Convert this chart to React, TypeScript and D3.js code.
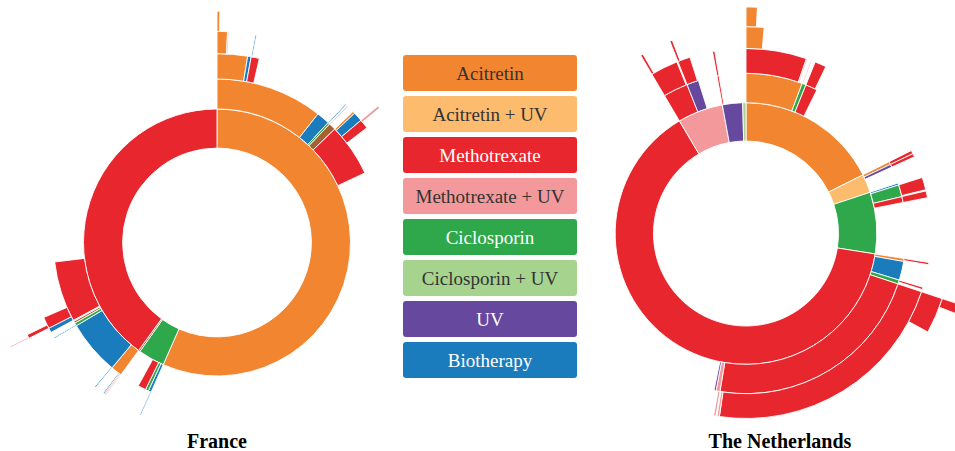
import * as d3 from "d3";

// treatment codes used in the sequence paths
const treatments = ["A", "AU", "M", "MU", "C", "CU", "U", "B"];
const treatmentLabels = [
  "Acitretin",
  "Acitretin + UV",
  "Methotrexate",
  "Methotrexate + UV",
  "Ciclosporin",
  "Ciclosporin + UV",
  "UV",
  "Biotherapy",
];
const treatmentColors = [
  "#f28530",
  "#fdbb6e",
  "#e8262d",
  "#f4999b",
  "#2ea84a",
  "#a6d48f",
  "#66489e",
  "#1a7bbd",
];
const labelInk = ["#333", "#333", "#fff", "#333", "#fff", "#333", "#fff", "#fff"];
const otherColor = "#a65f30";

// patients whose treatment sequence ends exactly at the given path
const franceSequences: [string, number][] = [
  ["A", 386],
  ["A-A", 70],
  ["A-A-A", 17],
  ["A-A-A-A", 6],
  ["A-A-A-A-A", 2],
  ["A-A-A-MU", 1],
  ["A-A-B", 3],
  ["A-A-M", 6],
  ["A-A-M-B", 1],
  ["A-B", 13],
  ["A-C", 1],
  ["A-C-B", 1],
  ["A-O", 6],
  ["A-O-MU", 1],
  ["A-M", 34],
  ["A-M-A", 2],
  ["A-M-B", 8],
  ["A-M-M", 6],
  ["A-M-M-MU", 2],
  ["C", 18],
  ["C-B", 2],
  ["C-B-B", 1],
  ["C-C", 3],
  ["C-M", 8],
  ["O", 2],
  ["M", 269],
  ["M-A", 8],
  ["M-A-MU", 1],
  ["M-A-A", 1],
  ["M-A-B", 1],
  ["M-B", 53],
  ["M-B-B", 1],
  ["M-C", 2],
  ["M-C-B", 1],
  ["M-O", 2],
  ["M-MU", 1],
  ["M-M", 46],
  ["M-M-B", 4],
  ["M-M-M", 7],
  ["M-M-M-M", 2],
  ["M-M-M-M-MU", 1],
];

const netherlandsSequences: [string, number][] = [
  ["A", 103],
  ["A-A", 3],
  ["A-A-M", 39],
  ["A-A-M-A", 6],
  ["A-A-M-A-A", 8],
  ["A-A-MU", 1],
  ["A-C", 3],
  ["A-C-MU", 1],
  ["A-M", 2],
  ["A-M-M", 10],
  ["AU", 17],
  ["AU-A-M", 3],
  ["AU-U-M", 3],
  ["C", 56],
  ["C-B", 2],
  ["C-C", 1],
  ["C-C-M", 11],
  ["C-M-M", 6],
  ["M", 383],
  ["M-A", 1],
  ["M-A-M", 2],
  ["M-B", 19],
  ["M-C", 2],
  ["M-C-M", 2],
  ["M-M", 1],
  ["M-M-M", 194],
  ["M-M-M-M", 21],
  ["M-M-M-M-M", 7],
  ["M-M-MU", 2],
  ["M-MU", 2],
  ["M-MU-MU", 2],
  ["M-U", 2],
  ["MU", 19],
  ["MU-M", 1],
  ["MU-M-M", 22],
  ["MU-M-M-M", 2],
  ["MU-U", 1],
  ["MU-U-M", 9],
  ["MU-U-M-M", 2],
  ["U", 23],
  ["U-M-M", 2],
  ["CU", 4],
];

interface SeqNode {
  name: string;
  own: number;
  children: SeqNode[];
}

function buildTree(rows: [string, number][]): SeqNode {
  const root: SeqNode = { name: "root", own: 0, children: [] };
  rows.forEach(([path, count]) => {
    let node = root;
    path.split("-").forEach((step) => {
      let child = node.children.find((c) => c.name === step);
      if (!child) {
        child = { name: step, own: 0, children: [] };
        node.children.push(child);
      }
      node = child;
    });
    node.own += count;
  });
  return root;
}

function colorOf(name: string) {
  const i = treatments.indexOf(name);
  return i < 0 ? otherColor : treatmentColors[i];
}

interface SunburstProps {
  rows: [string, number][];
  cx: number;
  cy: number;
  unit: number;
  title: string;
  titleX: number;
}

function Sunburst({ rows, cx, cy, unit, title, titleX }: SunburstProps) {
  const root = d3
    .hierarchy(buildTree(rows), (d) => (d.children.length ? d.children : null))
    .sum((d) => d.own);
  const levels = root.height + 1;
  // equal-area rings: radius is the square root of the partition depth
  const parted = d3.partition<SeqNode>().size([2 * Math.PI, unit * unit * levels])(root);

  const arc = d3
    .arc<d3.HierarchyRectangularNode<SeqNode>>()
    .startAngle((d) => d.x0)
    .endAngle((d) => d.x1)
    .innerRadius((d) => Math.sqrt(d.y0))
    .outerRadius((d) => Math.sqrt(d.y1));

  const nodes = parted.descendants().filter((d) => d.depth > 0);

  return (
    <g>
      <g transform={`translate(${cx},${cy})`}>
        {nodes.map((d, i) => (
          <path
            key={i}
            d={arc(d) || ""}
            fill={colorOf(d.data.name)}
            stroke="#fff"
            strokeWidth={0.9}
          />
        ))}
      </g>
      <text
        x={titleX}
        y={448}
        textAnchor="middle"
        fontFamily="'Liberation Serif', 'Times New Roman', serif"
        fontWeight="bold"
        fontSize={20}
        fill="#000"
      >
        {title}
      </text>
    </g>
  );
}

function Legend() {
  const x = 403;
  const w = 174;
  const h = 36;
  const step = 41;
  return (
    <g>
      {treatmentLabels.map((label, i) => (
        <g key={label} transform={`translate(${x},${55 + i * step})`}>
          <rect width={w} height={h} rx={3} fill={treatmentColors[i]} />
          <text
            x={w / 2}
            y={h / 2 + 7}
            textAnchor="middle"
            fontFamily="'Liberation Serif', 'Times New Roman', serif"
            fontSize={19}
            fill={labelInk[i]}
          >
            {label}
          </text>
        </g>
      ))}
    </g>
  );
}

export default function App() {
  return (
    <div style={{ position: "absolute", left: 0, top: 0 }}>
      <svg width={955} height={451} style={{ display: "block", background: "#fff" }}>
        <Sunburst rows={franceSequences} cx={217} cy={242.5} unit={94.4} title="France" titleX={217} />
        <Legend />
        <Sunburst
          rows={netherlandsSequences}
          cx={746}
          cy={233.5}
          unit={92.5}
          title="The Netherlands"
          titleX={780}
        />
      </svg>
    </div>
  );
}
